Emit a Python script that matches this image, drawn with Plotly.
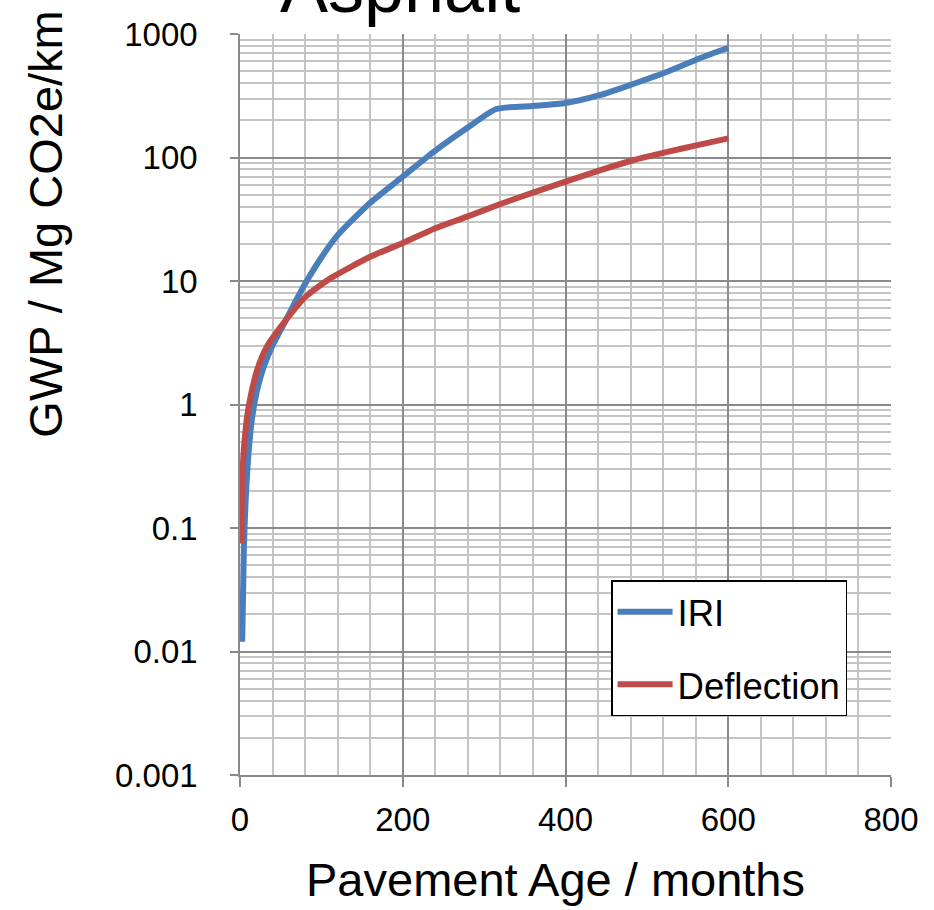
import plotly.graph_objects as go

# Data
iri_months = [2.7, 4.7, 6.8, 10.8, 15, 21, 29, 40, 54, 70, 82, 100, 120, 160,
              200, 238, 279, 315, 360, 400, 443, 483, 525, 565, 600]
iri_gwp = [0.012, 0.066, 0.16, 0.43, 0.8, 1.31, 2.0, 3.0, 4.5, 7.2, 10, 15.5, 23.5,
           43, 70, 111, 173, 247, 261, 276, 321, 394, 495, 636, 774]

defl_months = [1.8, 2.7, 4.7, 8.8, 13, 21, 33, 54, 80, 111, 160, 200, 238, 279,
               320, 360, 400, 443, 483, 525, 565, 600]
defl_gwp = [0.075, 0.23, 0.43, 0.8, 1.16, 1.9, 2.94, 4.6, 7.4, 10.5, 15.7, 20.3,
            26.4, 33.2, 42, 52, 63.7, 79, 95, 111, 127, 143]

x_ticks = [0, 200, 400, 600, 800]
y_ticks = [0.001, 0.01, 0.1, 1, 10, 100, 1000]
y_tick_text = ["0.001", "0.01", "0.1", "1", "10", "100", "1000"]

FONT = "Liberation Sans, Arial, sans-serif"
MAJOR = "#8a8a8a"
MINOR = "#c4c4c4"

fig = go.Figure()
fig.add_trace(go.Scatter(x=iri_months, y=iri_gwp, mode="lines", name="IRI",
                         legendgroup="a",
                         line=dict(color="#4A7EBB", width=6, shape="spline", smoothing=0.6)))
fig.add_trace(go.Scatter(x=defl_months, y=defl_gwp, mode="lines", name="Deflection",
                         legendgroup="b",
                         line=dict(color="#BE4B48", width=6, shape="spline", smoothing=0.6)))

fig.update_layout(
    width=934, height=910,
    margin=dict(l=240, r=43, t=34, b=135),
    paper_bgcolor="white", plot_bgcolor="white",
    font=dict(family=FONT, color="black", size=33),
    showlegend=True,
    legend=dict(x=0.570, y=0.263, xanchor="left", yanchor="top",
                bgcolor="white", bordercolor="black", borderwidth=1.5,
                font=dict(size=36.5, family=FONT), traceorder="grouped",
                tracegroupgap=22, itemwidth=55),
    xaxis=dict(range=[0, 800], tickvals=x_ticks, ticks="outside", ticklen=10,
               tickcolor=MAJOR, tickwidth=1.5,
               showgrid=True, gridcolor=MAJOR, gridwidth=1.5,
               minor=dict(dtick=40, showgrid=True, gridcolor=MINOR, gridwidth=1.5),
               showline=True, linecolor=MAJOR, linewidth=1.5,
               zeroline=False, tickfont=dict(size=33), ticklabelstandoff=5),
    yaxis=dict(type="log", range=[-3, 3], tickvals=y_ticks, ticktext=y_tick_text,
               ticks="outside", ticklen=8, tickcolor=MAJOR, tickwidth=1.5,
               showgrid=True, gridcolor=MAJOR, gridwidth=1.5,
               minor=dict(dtick="D1", showgrid=True, gridcolor=MINOR, gridwidth=1.5),
               showline=True, linecolor=MAJOR, linewidth=1.5,
               zeroline=False, tickfont=dict(size=33), ticklabelstandoff=26),
    annotations=[
        dict(text="Asphalt", xref="paper", yref="paper", x=0.2463, y=1.0634,
             xanchor="center", yanchor="middle", showarrow=False,
             font=dict(size=72, family=FONT)),
        dict(text="Pavement Age / months", xref="paper", yref="paper", x=0.484, y=-0.1417,
             xanchor="center", yanchor="middle", showarrow=False,
             font=dict(size=47, family=FONT)),
        dict(text="GWP / Mg CO2e/km", xref="paper", yref="paper", x=-0.2985, y=0.7436,
             xanchor="center", yanchor="middle", showarrow=False, textangle=-90,
             font=dict(size=47, family=FONT)),
    ],
)

fig.write_html("out.html")
